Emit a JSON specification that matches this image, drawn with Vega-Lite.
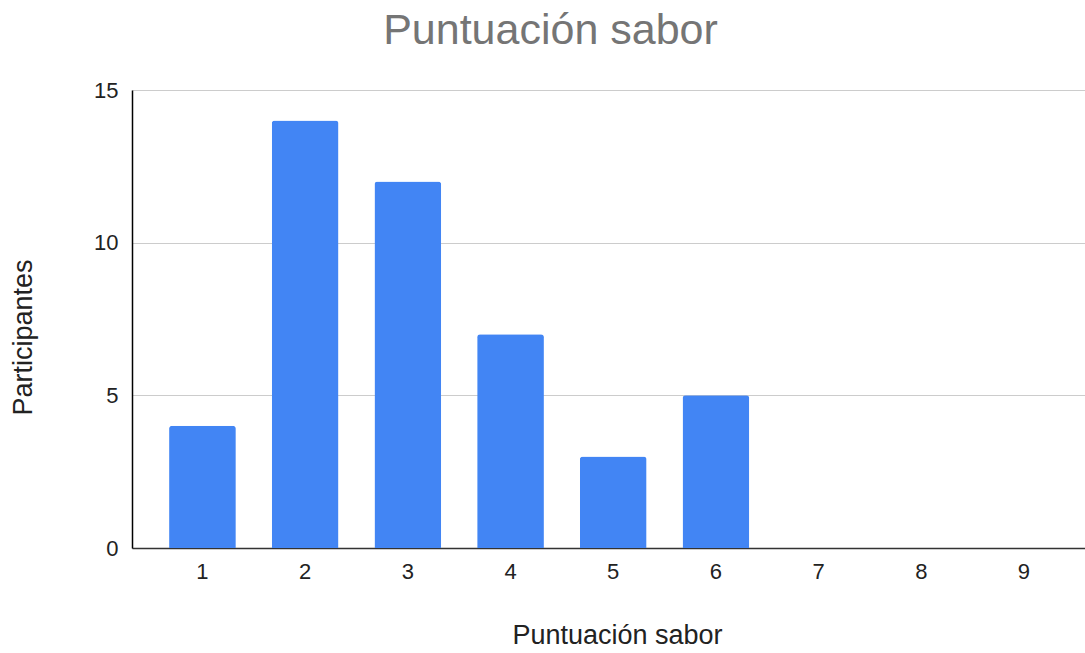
{
  "$schema": "https://vega.github.io/schema/vega-lite/v6.json",
  "width": 953,
  "height": 458,
  "autosize": {"type": "none"},
  "padding": {"left": 132, "top": 90, "right": 0, "bottom": 105},
  "background": "white",
  "title": {
    "text": "Puntuación sabor",
    "font": "Liberation Sans",
    "fontSize": 43,
    "fontWeight": "normal",
    "color": "#757575",
    "anchor": "middle",
    "baseline": "bottom",
    "dx": -58,
    "dy": 42,
    "offset": 25
  },
  "data": {
    "values": [
      {"puntuacion": 1, "participantes": 4},
      {"puntuacion": 2, "participantes": 14},
      {"puntuacion": 3, "participantes": 12},
      {"puntuacion": 4, "participantes": 7},
      {"puntuacion": 5, "participantes": 3},
      {"puntuacion": 6, "participantes": 5},
      {"puntuacion": 7, "participantes": 0},
      {"puntuacion": 8, "participantes": 0},
      {"puntuacion": 9, "participantes": 0}
    ]
  },
  "mark": {"type": "bar", "color": "#4285F4", "cornerRadiusTopLeft": 3, "cornerRadiusTopRight": 3},
  "encoding": {
    "x": {
      "field": "puntuacion",
      "type": "ordinal",
      "title": "Puntuación sabor",
      "scale": {"paddingInner": 0.35, "paddingOuter": 0.315, "align": 0.573},
      "axis": {
        "labelAngle": 0,
        "labelFont": "Liberation Sans",
        "labelFontSize": 22,
        "labelColor": "#222222",
        "labelPadding": 13,
        "ticks": false,
        "tickSize": 0,
        "domainColor": "#333333",
        "domainWidth": 1.5,
        "titleFont": "Liberation Sans",
        "titleFontSize": 27,
        "titleFontWeight": "normal",
        "titleColor": "#222222",
        "titlePadding": 40,
        "titleX": 485
      }
    },
    "y": {
      "field": "participantes",
      "type": "quantitative",
      "title": "Participantes",
      "scale": {"domain": [0, 15], "nice": false},
      "axis": {
        "values": [0, 5, 10, 15],
        "labelFont": "Liberation Sans",
        "labelFontSize": 22,
        "labelColor": "#222222",
        "labelPadding": 14,
        "ticks": false,
        "tickSize": 0,
        "domainColor": "#000000",
        "domainWidth": 1.5,
        "gridColor": "#cccccc",
        "gridWidth": 1.2,
        "titleFont": "Liberation Sans",
        "titleFontSize": 27,
        "titleFontWeight": "normal",
        "titleColor": "#222222",
        "titlePadding": 56,
        "titleY": 247
      }
    }
  },
  "config": {"view": {"stroke": null}}
}
